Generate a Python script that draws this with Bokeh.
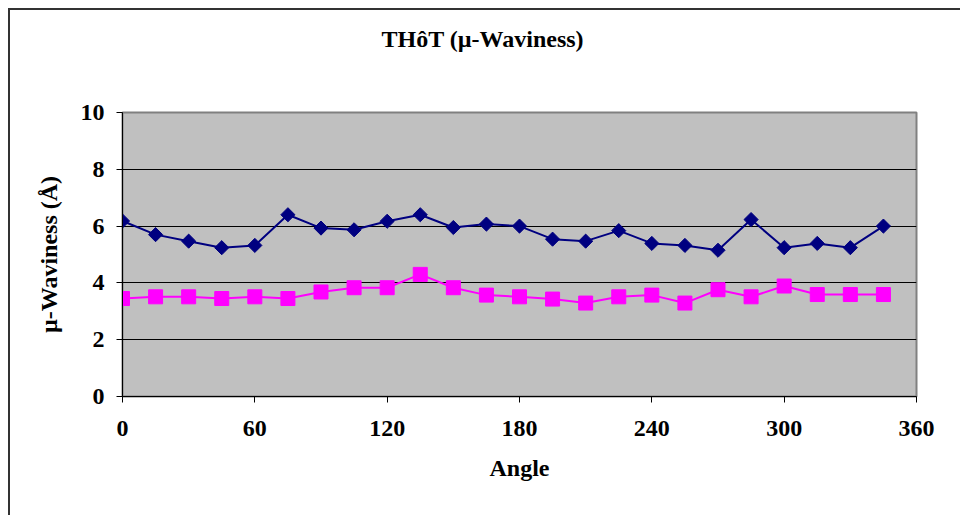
from bokeh.plotting import figure
from bokeh.models import Range1d, FixedTicker, Title
from bokeh.embed import file_html
from bokeh.resources import INLINE

# Measurements every 15 degrees around the part
angles = [0, 15, 30, 45, 60, 75, 90, 105, 120, 135, 150, 165,
          180, 195, 210, 225, 240, 255, 270, 285, 300, 315, 330, 345]
series_a = [6.18, 5.70, 5.47, 5.24, 5.32, 6.40, 5.93, 5.87, 6.17, 6.40, 5.95, 6.07,
            6.00, 5.54, 5.47, 5.84, 5.39, 5.32, 5.15, 6.23, 5.24, 5.39, 5.24, 6.00]
series_b = [3.45, 3.51, 3.51, 3.45, 3.51, 3.45, 3.68, 3.83, 3.83, 4.30, 3.83, 3.57,
            3.51, 3.43, 3.29, 3.51, 3.57, 3.29, 3.76, 3.51, 3.89, 3.59, 3.59, 3.59]

x_ticks = [0, 60, 120, 180, 240, 300, 360]
y_ticks = [0, 2, 4, 6, 8, 10]

FONT = "Liberation Serif"

p = figure(width=960, height=515, output_backend="svg", toolbar_location=None,
           x_range=Range1d(0, 360), y_range=Range1d(0, 10),
           min_border_left=122, min_border_right=44,
           min_border_top=112, min_border_bottom=119)
p.title = None

p.background_fill_color = "#C0C0C0"
# transparent canvas border so the page frame line (CSS) shows through
p.border_fill_alpha = 0
p.outline_line_color = "#808080"
p.outline_line_width = 2
p.styles = {
    "background-color": "white",
    "box-shadow": "inset 8px 8px 0 0 white, inset 10px 10px 0 0 #333333",
}

# Blank spacer next to the frame, then the chart title above it
p.add_layout(Title(text=" ", text_font=FONT, text_font_size="23px", standoff=29), "above")
p.add_layout(Title(text="THôT (µ-Waviness)", align="left", offset=259,
                   text_font=FONT, text_font_style="bold", text_font_size="24px",
                   text_color="black", standoff=10), "above")

# Grid
p.xgrid.grid_line_color = None
p.ygrid.grid_line_color = "black"
p.ygrid.grid_line_width = 1
p.ygrid.ticker = FixedTicker(ticks=[2, 4, 6, 8])

# Axes
for ax in (p.xaxis[0], p.yaxis[0]):
    ax.axis_line_color = "black"
    ax.axis_line_width = 1
    ax.major_tick_line_color = "black"
    ax.major_tick_out = 6
    ax.major_tick_in = 0
    ax.minor_tick_line_color = None
    ax.major_label_text_font = FONT
    ax.major_label_text_font_style = "bold"
    ax.major_label_text_font_size = "24px"
    ax.major_label_text_color = "black"
    ax.axis_label_text_font = FONT
    ax.axis_label_text_font_style = "bold"
    ax.axis_label_text_font_size = "24px"
    ax.axis_label_text_color = "black"

p.xaxis.ticker = FixedTicker(ticks=x_ticks)
p.yaxis.ticker = FixedTicker(ticks=y_ticks)
p.xaxis.axis_label = "Angle"
p.yaxis.axis_label = "µ-Waviness (Å)"
p.xaxis.major_label_standoff = 18
p.xaxis.axis_label_standoff = 16
p.yaxis.major_label_standoff = 12
p.yaxis.axis_label_standoff = 16

# Series
p.line(angles, series_a, line_color="#000080", line_width=2)
p.scatter(angles, series_a, marker="square", angle=0.785398, size=10,
          fill_color="#000080", line_color="#000080")
p.line(angles, series_b, line_color="#FF00FF", line_width=2)
p.scatter(angles, series_b, marker="square", size=14,
          fill_color="#FF00FF", line_color="#FF00FF")

open("out.html", "w").write(file_html(p, INLINE))
